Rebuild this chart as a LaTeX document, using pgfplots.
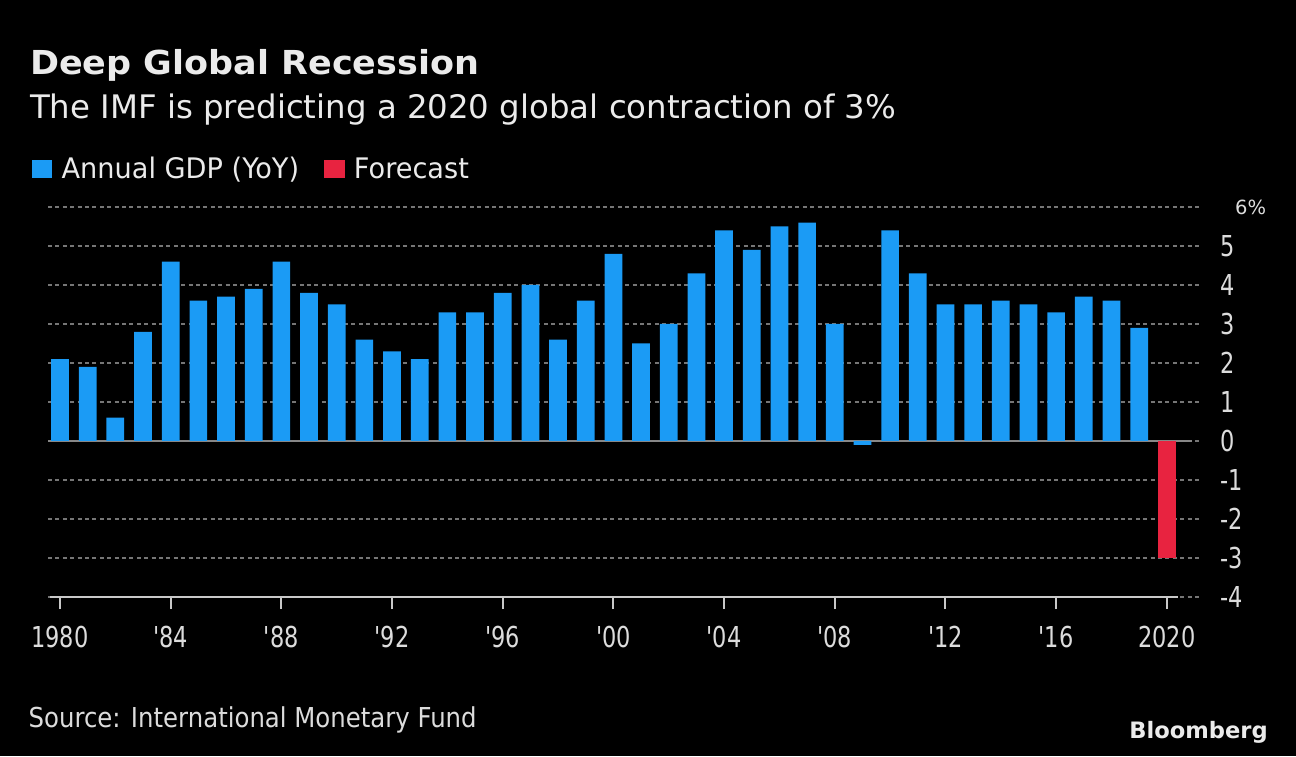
\documentclass[border=0pt]{standalone}
\usepackage{pgfplots}
\pgfplotsset{compat=1.18}
\usepackage{fontspec}
\setmainfont{DejaVu Sans}
\newfontfamily\titlefont{DejaVu Sans}[FakeStretch=1.06]
\newfontfamily\legfont{DejaVu Sans}[FakeStretch=0.96]
\newfontfamily\tickfont{DejaVu Sans}[FakeStretch=0.78,Ligatures=TeXOff]
\newfontfamily\pctfont{DejaVu Sans}
\newfontfamily\srcfont{DejaVu Sans}[FakeStretch=0.89]
\definecolor{gdpblue}{RGB}{27,155,245}
\definecolor{fcred}{RGB}{232,35,64}
\definecolor{gridgray}{RGB}{118,118,118}
\definecolor{zerogray}{RGB}{135,135,135}
\definecolor{axisgray}{RGB}{200,200,200}
\definecolor{txt}{RGB}{235,235,235}
\definecolor{ticktxt}{RGB}{220,220,220}

\pgfplotstableread{
year gdp
1980 2.1
1981 1.9
1982 0.6
1983 2.8
1984 4.6
1985 3.6
1986 3.7
1987 3.9
1988 4.6
1989 3.8
1990 3.5
1991 2.6
1992 2.3
1993 2.1
1994 3.3
1995 3.3
1996 3.8
1997 4.0
1998 2.6
1999 3.6
2000 4.8
2001 2.5
2002 3.0
2003 4.3
2004 5.4
2005 4.9
2006 5.5
2007 5.6
2008 3.0
2009 -0.1
2010 5.4
2011 4.3
2012 3.5
2013 3.5
2014 3.6
2015 3.5
2016 3.3
2017 3.7
2018 3.6
2019 2.9
}\gdptable
\pgfplotstableread{
year gdp
2020 -3.0
}\fctable

\begin{document}
\begin{tikzpicture}
\path[fill=black,use as bounding box] (0pt,0pt) rectangle (1296pt,756pt);
\begin{axis}[
  at={(48pt,159pt)}, anchor=south west,
  scale only axis, width=1152pt, height=390pt,
  xmin=1979.566, xmax=2021.2,
  ymin=-4, ymax=6,
  axis line style={draw=none},
  ytick={-4,-3,...,6},
  yticklabels={-4,-3,-2,-1,0,1,2,3,4,5,{\hspace{15pt}\pctfont\fontsize{19.5}{20}\selectfont 6\%}},
  ymajorgrids,
  every axis grid/.style={draw=gridgray, line width=2.5pt, dash pattern=on 4pt off 3.4pt},
  major grid style={draw=gridgray, line width=2.5pt, dash pattern=on 4pt off 3.4pt},
  y grid style={draw=gridgray, line width=2.5pt, dash pattern=on 4pt off 3.4pt},
  ytick style={draw=none},
  yticklabel pos=right,
  yticklabel style={anchor=west, inner sep=0pt, xshift=8pt, text=ticktxt, font=\tickfont\fontsize{28.8}{30}\selectfont},
  xtick={1980,1984,...,2020},
  xticklabels={1980,'84,'88,'92,'96,'00,'04,'08,'12,'16,2020},
  xtick pos=lower,
  tick align=outside,
  major tick length=12pt,
  xtick style={draw=axisgray, line width=2pt},
  xticklabel style={anchor=north, inner sep=0pt, yshift=-17pt, text=ticktxt, font=\tickfont\fontsize{28.8}{30}\selectfont},
  legend style={at={(-0.01415,1.0985)}, anchor=west, draw=none, fill=none, inner sep=0pt, outer sep=0pt,
    legend columns=-1, font=\legfont\fontsize{28.3}{30}\selectfont, text=txt,
    nodes={inner sep=0pt},
    /tikz/every odd column/.append style={column sep=10pt},
    /tikz/every even column/.append style={column sep=25pt}},
  clip=false,
]
\addlegendimage{legend image code/.code={\fill[gdpblue] (0pt,-8.5pt) rectangle (19.5pt,8.5pt);}}
\addlegendentry{Annual GDP (YoY)}
\addlegendimage{legend image code/.code={\fill[fcred] (0pt,-8.5pt) rectangle (19.5pt,8.5pt);}}
\addlegendentry{Forecast}
\addplot[forget plot, draw=zerogray, line width=2.4pt] coordinates {(1979.566,0) (2020.91,0)};
\addplot[forget plot, draw=axisgray, line width=2.4pt] coordinates {(1979.64,-4) (2020.4,-4)};
\addplot[forget plot, ybar, bar width=17.7pt, bar shift=0pt, fill=gdpblue, draw=none] table[x=year,y=gdp] {\gdptable};
\addplot[forget plot, ybar, bar width=17.7pt, bar shift=0pt, fill=fcred, draw=none] table[x=year,y=gdp] {\fctable};
\end{axis}
\node[anchor=base west, inner sep=0pt, text=txt, font=\titlefont\bfseries\fontsize{33}{36}\selectfont] at (30pt,681pt) {Deep Global Recession};
\node[anchor=base west, inner sep=0pt, text=txt, font=\fontsize{32.4}{36}\selectfont] at (30pt,637.7pt) {The IMF is predicting a 2020 global contraction of 3\%};
\node[anchor=base west, inner sep=0pt, text=ticktxt, font=\srcfont\fontsize{27.4}{30}\selectfont] at (28.5pt,28.3pt) {Source: International Monetary Fund};
\node[anchor=base east, inner sep=0pt, text=txt, font=\bfseries\fontsize{22.6}{24}\selectfont] at (1268pt,18pt) {Bloomberg};
\end{tikzpicture}
\end{document}
